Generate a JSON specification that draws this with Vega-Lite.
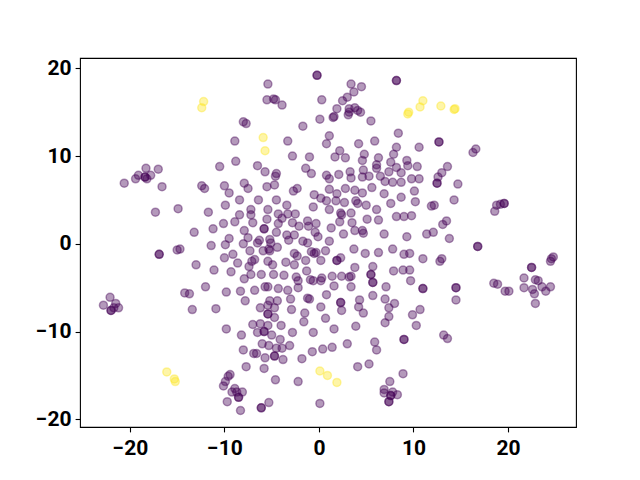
{
"$schema":"https://vega.github.io/schema/vega-lite/v6.json",
"width":496,"height":369,
"autosize":{"type":"none"},
"padding":{"left":80,"top":58,"right":64,"bottom":53},
"background":"white",
"config":{"view":{"stroke":"black","strokeWidth":1.1},"axis":{"grid":false,"domain":false,"tickColor":"black","tickWidth":1.1,"tickSize":4.9,"labelFont":"Roboto","labelFontWeight":"bold","labelFontSize":21,"labelColor":"black","title":null,"labelFlush":false,"labelOverlap":false}},
"datasets":{"pts":[
{"x":-8.0,"y":13.9,"c":0},{"x":-7.7,"y":13.7,"c":0},{"x":-8.9,"y":11.7,"c":0},{"x":-8.8,"y":9.4,"c":0},{"x":-10.5,"y":8.8,"c":0},{"x":-18.3,"y":8.6,"c":0},{"x":-17.0,"y":8.5,"c":0},{"x":-19.1,"y":7.8,"c":0},{"x":-18.4,"y":7.6,"c":0},{"x":-18.4,"y":7.6,"c":0},{"x":-17.8,"y":7.8,"c":0},{"x":-19.4,"y":7.4,"c":0},{"x":-18.2,"y":7.4,"c":0},{"x":-20.6,"y":6.9,"c":0},{"x":-16.6,"y":6.5,"c":0},{"x":-12.4,"y":6.6,"c":0},{"x":-12.1,"y":6.3,"c":0},{"x":-10.0,"y":6.6,"c":0},{"x":-9.5,"y":5.8,"c":0},{"x":-8.4,"y":5.0,"c":0},{"x":-7.9,"y":6.9,"c":0},{"x":-17.3,"y":3.6,"c":0},{"x":-14.9,"y":4.0,"c":0},{"x":-11.7,"y":3.6,"c":0},{"x":-9.9,"y":4.4,"c":0},{"x":-8.4,"y":3.3,"c":0},{"x":-10.1,"y":2.3,"c":0},{"x":-8.9,"y":2.5,"c":0},{"x":-11.2,"y":1.7,"c":0},{"x":-13.2,"y":1.3,"c":0},{"x":-7.9,"y":1.5,"c":0},{"x":-11.4,"y":-0.2,"c":0},{"x":-9.9,"y":-0.1,"c":0},{"x":-9.5,"y":0.6,"c":0},{"x":-8.0,"y":0.0,"c":0},{"x":-16.9,"y":-1.2,"c":0},{"x":-16.9,"y":-1.2,"c":0},{"x":-15.0,"y":-0.7,"c":0},{"x":-14.7,"y":-0.6,"c":0},{"x":-10.0,"y":-1.6,"c":0},{"x":-9.1,"y":-1.2,"c":0},{"x":-8.6,"y":-2.2,"c":0},{"x":-13.0,"y":-2.4,"c":0},{"x":-11.1,"y":-3.0,"c":0},{"x":-9.3,"y":-3.2,"c":0},{"x":-7.9,"y":-4.0,"c":0},{"x":-12.0,"y":-4.9,"c":0},{"x":-14.2,"y":-5.6,"c":0},{"x":-13.7,"y":-5.7,"c":0},{"x":-9.8,"y":-5.5,"c":0},{"x":-8.3,"y":-5.4,"c":0},{"x":-7.8,"y":-6.5,"c":0},
{"x":-22.8,"y":-7.0,"c":0},{"x":-22.1,"y":-6.1,"c":0},{"x":-21.7,"y":-7.3,"c":0},{"x":-21.2,"y":-7.3,"c":0},{"x":-22.0,"y":-7.6,"c":0},{"x":-22.0,"y":-7.6,"c":0},{"x":-21.5,"y":-6.8,"c":0},
{"x":-13.4,"y":-7.5,"c":0},{"x":-10.9,"y":-7.4,"c":0},{"x":-9.8,"y":-9.7,"c":0},{"x":-8.2,"y":-10.4,"c":0},{"x":-8.0,"y":-12.1,"c":0},{"x":-7.7,"y":-14.0,"c":0},{"x":-9.4,"y":-14.9,"c":0},{"x":-9.6,"y":-15.1,"c":0},{"x":-9.9,"y":-15.7,"c":0},{"x":-10.1,"y":-16.2,"c":0},{"x":-8.9,"y":-16.5,"c":0},{"x":-9.2,"y":-16.9,"c":0},{"x":-8.7,"y":-16.9,"c":0},{"x":-8.1,"y":-16.9,"c":0},{"x":-8.5,"y":-17.5,"c":0},{"x":-8.5,"y":-17.5,"c":0},{"x":-9.7,"y":-18.0,"c":0},{"x":-8.3,"y":-19.0,"c":0},
{"x":-0.2,"y":19.2,"c":0},{"x":-0.2,"y":19.2,"c":0},{"x":8.2,"y":18.6,"c":0},{"x":8.2,"y":18.6,"c":0},{"x":-5.4,"y":18.2,"c":0},{"x":3.4,"y":18.2,"c":0},{"x":4.5,"y":17.9,"c":0},{"x":3.7,"y":17.3,"c":0},{"x":-5.5,"y":16.4,"c":0},{"x":-4.8,"y":16.5,"c":0},{"x":-4.6,"y":16.4,"c":0},{"x":-3.9,"y":15.8,"c":0},{"x":0.3,"y":16.4,"c":0},{"x":3.0,"y":16.7,"c":0},{"x":2.5,"y":16.3,"c":0},{"x":1.9,"y":15.4,"c":0},{"x":3.2,"y":15.4,"c":0},{"x":3.8,"y":15.5,"c":0},{"x":4.1,"y":15.2,"c":0},{"x":4.4,"y":15.0,"c":0},{"x":3.1,"y":14.7,"c":0},{"x":3.2,"y":15.0,"c":0},{"x":1.6,"y":14.5,"c":0},{"x":1.5,"y":14.4,"c":0},{"x":0.1,"y":14.2,"c":0},{"x":5.5,"y":14.0,"c":0},{"x":-1.7,"y":13.4,"c":0},{"x":8.4,"y":12.6,"c":0},{"x":-3.3,"y":11.7,"c":0},{"x":1.1,"y":12.3,"c":0},{"x":0.8,"y":11.4,"c":0},{"x":4.2,"y":11.4,"c":0},{"x":5.9,"y":11.7,"c":0},{"x":8.2,"y":11.0,"c":0},{"x":2.2,"y":10.6,"c":0},{"x":1.7,"y":9.9,"c":0},{"x":2.8,"y":9.8,"c":0},{"x":-2.8,"y":10.0,"c":0},{"x":-1.0,"y":9.9,"c":0},{"x":4.8,"y":10.2,"c":0},{"x":4.6,"y":9.5,"c":0},{"x":6.3,"y":9.8,"c":0},{"x":7.9,"y":10.2,"c":0},{"x":7.6,"y":9.3,"c":0},{"x":9.3,"y":9.5,"c":0},{"x":-6.5,"y":8.9,"c":0},{"x":-5.7,"y":8.2,"c":0},{"x":-4.5,"y":8.0,"c":0},{"x":-4.6,"y":7.7,"c":0},{"x":-1.4,"y":8.6,"c":0},{"x":-0.8,"y":8.0,"c":0},{"x":0.8,"y":7.8,"c":0},{"x":1.1,"y":7.4,"c":0},{"x":2.1,"y":7.9,"c":0},{"x":3.3,"y":8.2,"c":0},{"x":3.4,"y":7.5,"c":0},{"x":4.7,"y":8.4,"c":0},{"x":4.6,"y":7.6,"c":0},{"x":5.3,"y":7.7,"c":0},{"x":6.1,"y":9.0,"c":0},{"x":6.1,"y":8.6,"c":0},{"x":6.5,"y":7.7,"c":0},{"x":7.4,"y":8.2,"c":0},{"x":8.2,"y":8.7,"c":0},{"x":8.7,"y":8.1,"c":0},{"x":9.4,"y":8.9,"c":0},{"x":10.4,"y":8.8,"c":0},{"x":7.0,"y":7.1,"c":0},{"x":7.8,"y":7.0,"c":0},{"x":8.7,"y":7.0,"c":0},
{"x":12.7,"y":11.6,"c":0},{"x":12.7,"y":11.6,"c":0},{"x":10.6,"y":11.0,"c":0},{"x":16.6,"y":10.8,"c":0},{"x":16.3,"y":10.4,"c":0},{"x":13.6,"y":8.8,"c":0},{"x":13.0,"y":8.1,"c":0},{"x":12.6,"y":7.6,"c":0},{"x":9.8,"y":7.4,"c":0},{"x":10.6,"y":7.4,"c":0},{"x":12.5,"y":6.9,"c":0},{"x":12.5,"y":6.9,"c":0},{"x":14.7,"y":6.8,"c":0},
{"x":10.1,"y":6.0,"c":0},{"x":10.2,"y":4.8,"c":0},{"x":11.9,"y":4.3,"c":0},{"x":12.2,"y":4.4,"c":0},{"x":14.3,"y":5.0,"c":0},{"x":18.6,"y":3.7,"c":0},{"x":18.8,"y":4.4,"c":0},{"x":19.6,"y":4.6,"c":0},{"x":19.6,"y":4.6,"c":0},{"x":19.2,"y":4.5,"c":0},{"x":9.8,"y":3.2,"c":0},{"x":13.5,"y":2.6,"c":0},{"x":13.1,"y":2.2,"c":0},{"x":11.4,"y":1.1,"c":0},{"x":12.1,"y":1.3,"c":0},{"x":13.8,"y":0.6,"c":0},{"x":16.8,"y":-0.3,"c":0},{"x":16.8,"y":-0.3,"c":0},{"x":11.0,"y":-1.7,"c":0},{"x":13.0,"y":-1.7,"c":0},{"x":12.8,"y":-2.0,"c":0},{"x":24.6,"y":-1.7,"c":0},{"x":24.8,"y":-1.5,"c":0},{"x":24.5,"y":-2.0,"c":0},{"x":22.5,"y":-2.7,"c":0},{"x":22.5,"y":-2.7,"c":0},{"x":21.7,"y":-3.9,"c":0},{"x":22.9,"y":-4.1,"c":0},{"x":23.2,"y":-4.2,"c":0},{"x":18.5,"y":-4.5,"c":0},{"x":18.9,"y":-4.6,"c":0},{"x":19.7,"y":-5.4,"c":0},{"x":20.1,"y":-5.4,"c":0},{"x":21.7,"y":-5.0,"c":0},{"x":22.6,"y":-5.2,"c":0},{"x":22.8,"y":-5.7,"c":0},{"x":23.6,"y":-4.9,"c":0},{"x":24.0,"y":-5.4,"c":0},{"x":24.5,"y":-4.9,"c":0},{"x":11.0,"y":-5.1,"c":0},{"x":11.0,"y":-5.1,"c":0},{"x":14.5,"y":-5.0,"c":0},{"x":14.5,"y":-5.0,"c":0},{"x":14.5,"y":-6.4,"c":0},{"x":22.9,"y":-6.8,"c":0},{"x":9.3,"y":0.8,"c":0},
{"x":10.7,"y":-7.5,"c":0},{"x":9.9,"y":-8.1,"c":0},{"x":10.3,"y":-9.3,"c":0},{"x":13.2,"y":-10.4,"c":0},{"x":13.6,"y":-10.8,"c":0},
{"x":-6.2,"y":-7.3,"c":0},{"x":-5.4,"y":-7.0,"c":0},{"x":-4.7,"y":-7.3,"c":0},{"x":-5.4,"y":-8.0,"c":0},{"x":-5.4,"y":-8.0,"c":0},{"x":-4.7,"y":-8.4,"c":0},{"x":-2.9,"y":-7.5,"c":0},{"x":-1.5,"y":-7.9,"c":0},{"x":-1.6,"y":-8.9,"c":0},{"x":0.2,"y":-7.2,"c":0},{"x":0.7,"y":-8.5,"c":0},{"x":2.3,"y":-6.7,"c":0},{"x":2.3,"y":-6.7,"c":0},{"x":2.4,"y":-7.6,"c":0},{"x":4.2,"y":-7.2,"c":0},{"x":4.7,"y":-7.9,"c":0},{"x":7.4,"y":-7.3,"c":0},{"x":8.0,"y":-6.8,"c":0},{"x":7.4,"y":-8.3,"c":0},{"x":7.0,"y":-9.0,"c":0},{"x":-7.0,"y":-9.2,"c":0},{"x":-6.2,"y":-9.1,"c":0},{"x":-5.4,"y":-9.3,"c":0},{"x":-5.8,"y":-10.0,"c":0},{"x":-5.8,"y":-10.0,"c":0},{"x":-6.5,"y":-10.1,"c":0},{"x":-5.0,"y":-10.4,"c":0},{"x":-4.0,"y":-9.3,"c":0},{"x":-2.8,"y":-10.1,"c":0},{"x":-0.6,"y":-10.1,"c":0},{"x":1.6,"y":-9.7,"c":0},{"x":3.9,"y":-9.4,"c":0},{"x":-4.1,"y":-10.9,"c":0},{"x":-6.0,"y":-11.4,"c":0},{"x":-5.3,"y":-11.6,"c":0},{"x":-4.5,"y":-11.9,"c":0},{"x":-3.9,"y":-11.9,"c":0},{"x":-3.1,"y":-11.6,"c":0},{"x":-6.9,"y":-12.5,"c":0},{"x":-6.6,"y":-12.5,"c":0},{"x":-5.7,"y":-13.0,"c":0},{"x":-4.7,"y":-12.8,"c":0},{"x":-4.7,"y":-12.8,"c":0},{"x":-3.8,"y":-13.2,"c":0},{"x":-1.8,"y":-13.1,"c":0},{"x":-0.7,"y":-12.3,"c":0},{"x":0.4,"y":-12.0,"c":0},{"x":1.4,"y":-11.8,"c":0},{"x":3.0,"y":-11.4,"c":0},{"x":5.9,"y":-11.2,"c":0},{"x":6.1,"y":-12.1,"c":0},{"x":9.0,"y":-10.9,"c":0},{"x":9.0,"y":-10.9,"c":0},{"x":-5.8,"y":-14.2,"c":0},{"x":4.1,"y":-14.0,"c":0},{"x":5.3,"y":-13.7,"c":0},{"x":-4.6,"y":-15.5,"c":0},{"x":-2.2,"y":-15.7,"c":0},{"x":7.5,"y":-15.7,"c":0},{"x":8.9,"y":-14.8,"c":0},{"x":6.9,"y":-16.6,"c":0},{"x":6.9,"y":-17.0,"c":0},{"x":7.8,"y":-16.9,"c":0},{"x":7.6,"y":-17.3,"c":0},{"x":7.6,"y":-17.3,"c":0},{"x":8.3,"y":-17.2,"c":0},{"x":7.4,"y":-18.0,"c":0},{"x":7.4,"y":-18.0,"c":0},{"x":0.1,"y":-18.2,"c":0},{"x":-6.1,"y":-18.7,"c":0},{"x":-6.1,"y":-18.7,"c":0},{"x":-5.3,"y":-18.1,"c":0},
{"x":-7.5,"y":6.3,"c":0},{"x":-5.5,"y":6.5,"c":0},{"x":-4.7,"y":6.7,"c":0},{"x":-2.7,"y":6.0,"c":0},{"x":-2.3,"y":6.3,"c":0},{"x":-0.5,"y":5.6,"c":0},{"x":1.1,"y":6.2,"c":0},{"x":2.8,"y":6.3,"c":0},{"x":3.8,"y":6.1,"c":0},{"x":4.6,"y":5.8,"c":0},{"x":5.6,"y":6.4,"c":0},{"x":6.9,"y":5.7,"c":0},{"x":8.7,"y":5.3,"c":0},{"x":-6.4,"y":5.0,"c":0},{"x":-4.5,"y":5.0,"c":0},{"x":-3.4,"y":4.4,"c":0},{"x":0.2,"y":5.2,"c":0},{"x":0.8,"y":4.9,"c":0},{"x":1.9,"y":5.7,"c":0},{"x":1.8,"y":4.9,"c":0},{"x":2.7,"y":4.7,"c":0},{"x":3.9,"y":4.9,"c":0},{"x":4.1,"y":4.6,"c":0},{"x":5.0,"y":4.4,"c":0},{"x":6.1,"y":3.9,"c":0},{"x":7.6,"y":4.6,"c":0},{"x":-7.2,"y":3.9,"c":0},{"x":-7.2,"y":3.3,"c":0},{"x":-5.4,"y":3.9,"c":0},{"x":-4.3,"y":3.4,"c":0},{"x":-3.3,"y":3.4,"c":0},{"x":-2.5,"y":3.4,"c":0},{"x":-0.6,"y":4.2,"c":0},{"x":1.1,"y":3.9,"c":0},{"x":2.3,"y":3.5,"c":0},{"x":2.4,"y":3.3,"c":0},{"x":3.4,"y":3.5,"c":0},{"x":8.2,"y":3.1,"c":0},{"x":9.0,"y":3.1,"c":0},{"x":-5.5,"y":2.8,"c":0},{"x":-3.9,"y":2.9,"c":0},{"x":-4.3,"y":2.3,"c":0},{"x":-7.0,"y":2.4,"c":0},{"x":-2.8,"y":2.4,"c":0},{"x":-2.1,"y":2.0,"c":0},{"x":-1.2,"y":2.6,"c":0},{"x":-1.1,"y":2.0,"c":0},{"x":-0.3,"y":2.3,"c":0},{"x":1.3,"y":1.8,"c":0},{"x":2.2,"y":2.5,"c":0},{"x":3.5,"y":2.4,"c":0},{"x":5.1,"y":2.8,"c":0},{"x":6.3,"y":2.7,"c":0},{"x":-5.8,"y":1.7,"c":0},{"x":-5.8,"y":1.7,"c":0},{"x":-4.5,"y":1.3,"c":0},{"x":-3.4,"y":1.0,"c":0},{"x":-2.6,"y":1.0,"c":0},{"x":-0.4,"y":1.3,"c":0},{"x":-0.1,"y":0.8,"c":0},{"x":2.6,"y":1.1,"c":0},{"x":3.8,"y":1.5,"c":0},{"x":4.6,"y":1.5,"c":0},{"x":4.7,"y":1.2,"c":0},{"x":6.9,"y":1.1,"c":0},{"x":-7.5,"y":0.7,"c":0},{"x":-6.5,"y":0.1,"c":0},{"x":-6.3,"y":0.4,"c":0},{"x":-5.2,"y":0.5,"c":0},{"x":-5.1,"y":0.1,"c":0},{"x":-4.4,"y":-0.4,"c":0},{"x":-3.2,"y":0.4,"c":0},{"x":-1.7,"y":0.3,"c":0},{"x":-1.2,"y":0.1,"c":0},{"x":1.1,"y":0.3,"c":0},{"x":-7.3,"y":-0.8,"c":0},{"x":-5.9,"y":-0.8,"c":0},{"x":-5.3,"y":-0.6,"c":0},{"x":-5.2,"y":-0.8,"c":0},{"x":-2.6,"y":-1.1,"c":0},{"x":-2.3,"y":-1.4,"c":0},{"x":-0.8,"y":-0.9,"c":0},{"x":-0.3,"y":-1.0,"c":0},{"x":-0.5,"y":-1.1,"c":0},{"x":0.7,"y":-0.8,"c":0},{"x":0.2,"y":-1.9,"c":0},{"x":3.7,"y":-0.6,"c":0},{"x":4.9,"y":-1.1,"c":0},{"x":6.3,"y":-1.0,"c":0},{"x":7.8,"y":-0.6,"c":0},{"x":9.0,"y":-1.2,"c":0},{"x":9.6,"y":-1.1,"c":0},{"x":-6.8,"y":-1.8,"c":0},{"x":-7.1,"y":-2.0,"c":0},{"x":-5.4,"y":-2.0,"c":0},{"x":-3.5,"y":-2.1,"c":0},{"x":-2.6,"y":-2.4,"c":0},{"x":-1.4,"y":-1.9,"c":0},{"x":1.9,"y":-1.9,"c":0},{"x":1.9,"y":-1.9,"c":0},{"x":2.3,"y":-1.6,"c":0},{"x":-7.4,"y":-2.6,"c":0},{"x":-4.9,"y":-2.4,"c":0},{"x":-7.2,"y":-3.5,"c":0},{"x":-6.1,"y":-3.5,"c":0},{"x":-4.8,"y":-3.5,"c":0},{"x":-3.7,"y":-3.6,"c":0},{"x":-1.3,"y":-3.1,"c":0},{"x":-0.9,"y":-4.1,"c":0},{"x":0.3,"y":-3.9,"c":0},{"x":0.2,"y":-4.2,"c":0},{"x":1.4,"y":-3.7,"c":0},{"x":2.4,"y":-3.7,"c":0},{"x":3.2,"y":-3.8,"c":0},{"x":3.4,"y":-3.7,"c":0},{"x":3.8,"y":-2.7,"c":0},{"x":5.7,"y":-2.6,"c":0},{"x":5.5,"y":-3.5,"c":0},{"x":5.5,"y":-3.5,"c":0},{"x":5.7,"y":-4.4,"c":0},{"x":5.7,"y":-4.4,"c":0},{"x":8.9,"y":-3.0,"c":0},{"x":9.6,"y":-3.0,"c":0},{"x":7.9,"y":-3.1,"c":0},{"x":-2.4,"y":-3.8,"c":0},{"x":-2.2,"y":-4.2,"c":0},{"x":-0.6,"y":-4.2,"c":0},{"x":-6.8,"y":-5.3,"c":0},{"x":-5.7,"y":-4.9,"c":0},{"x":-5.4,"y":-4.9,"c":0},{"x":-4.3,"y":-5.1,"c":0},{"x":-3.3,"y":-5.3,"c":0},{"x":-2.2,"y":-5.0,"c":0},{"x":-1.2,"y":-6.2,"c":0},{"x":-1.0,"y":-6.3,"c":0},{"x":0.8,"y":-5.8,"c":0},{"x":1.6,"y":-4.8,"c":0},{"x":3.4,"y":-4.9,"c":0},{"x":4.3,"y":-6.4,"c":0},{"x":5.7,"y":-5.9,"c":0},{"x":7.1,"y":-4.9,"c":0},{"x":7.0,"y":-6.3,"c":0},{"x":9.7,"y":-4.2,"c":0},{"x":-5.2,"y":-6.5,"c":0},{"x":-4.4,"y":-6.5,"c":0},{"x":-3.0,"y":-6.3,"c":0},
{"x":-12.2,"y":16.2,"c":1},{"x":-12.4,"y":15.5,"c":1},{"x":-5.9,"y":12.1,"c":1},{"x":-5.7,"y":10.6,"c":1},{"x":9.5,"y":15.0,"c":1},{"x":9.4,"y":14.8,"c":1},{"x":11.0,"y":16.3,"c":1},{"x":10.7,"y":15.6,"c":1},{"x":12.9,"y":15.7,"c":1},{"x":14.3,"y":15.3,"c":1},{"x":14.4,"y":15.4,"c":1},{"x":-16.1,"y":-14.6,"c":1},{"x":-15.3,"y":-15.4,"c":1},{"x":-15.2,"y":-15.7,"c":1},{"x":0.1,"y":-14.5,"c":1},{"x":0.9,"y":-15.0,"c":1},{"x":1.9,"y":-15.8,"c":1}
]},
"data":{"name":"pts"},
"mark":{"type":"circle","size":64,"opacity":1,"fillOpacity":0.4,"strokeOpacity":0.4,"strokeWidth":1.5},
"encoding":{
"x":{"field":"x","type":"quantitative","scale":{"domain":[-25.28,27.2],"nice":false,"zero":false},"axis":{"values":[-20,-10,0,10,20],"labelPadding":6}},
"y":{"field":"y","type":"quantitative","scale":{"domain":[-20.88,21.17],"nice":false,"zero":false},"axis":{"values":[-20,-10,0,10,20],"labelPadding":4}},
"color":{"field":"c","type":"nominal","scale":{"domain":[0,1],"range":["#440154","#fde725"]},"legend":null},
"stroke":{"field":"c","type":"nominal","scale":{"domain":[0,1],"range":["#440154","#fde725"]},"legend":null}
}
}
